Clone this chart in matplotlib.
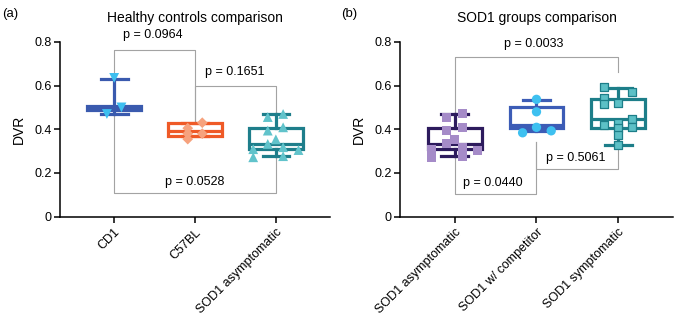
import matplotlib
matplotlib.use("Agg")
import matplotlib.pyplot as plt

plt.rcParams['font.family'] = ['Liberation Sans', 'DejaVu Sans']

# ---- data ----
groups_a = ['CD1', 'C57BL', 'SOD1 asymptomatic']
groups_b = ['SOD1 asymptomatic', 'SOD1 w/ competitor', 'SOD1 symptomatic']

cd1_vals = [0.635, 0.50, 0.47]
c57_vals = [0.43, 0.405, 0.38, 0.38, 0.355]
asym_vals = [0.47, 0.456, 0.409, 0.394, 0.354, 0.333, 0.318, 0.309, 0.305, 0.277, 0.272]
comp_vals = [0.537, 0.48, 0.409, 0.393, 0.384]
symp_vals = [0.594, 0.571, 0.544, 0.518, 0.514, 0.447, 0.43, 0.42, 0.411, 0.407, 0.375, 0.327]

# box stats: whislo, q1, median, q3, whishi
cd1_box = [0.469, 0.487, 0.497, 0.507, 0.628]
c57_box = [0.37, 0.37, 0.394, 0.427, 0.427]
asym_box = [0.277, 0.311, 0.333, 0.404, 0.469]
comp_box = [0.39, 0.405, 0.418, 0.503, 0.533]
symp_box = [0.328, 0.407, 0.445, 0.539, 0.59]

# p-values
p_a = ['p = 0.0964', 'p = 0.1651', 'p = 0.0528']
p_b = ['p = 0.0033', 'p = 0.0440', 'p = 0.5061']

# horizontal jitter of the dots (as drawn in the figure)
cd1_jit = [0, 0.09, -0.09]
c57_jit = [0.09, -0.09, -0.09, 0.09, -0.09]
asym_jit = [0.09, -0.1, 0.09, -0.1, 0, -0.1, 0.09, -0.28, 0.28, 0.09, -0.28]
comp_jit = [0, 0, 0, 0.18, -0.17]
symp_jit = [-0.17, 0.17, -0.17, 0, -0.17, 0.17, 0, -0.17, 0.17, 0, 0, 0]

GRAY = '#a3a3a3'


def stats(b):
    return dict(whislo=b[0], q1=b[1], med=b[2], q3=b[3], whishi=b[4])


def draw_box(ax, pos, box, vals, jit, col, fc, marker, ms, mec=None):
    ax.bxp([stats(box)], positions=[pos], widths=0.66, capwidths=0.33,
           showfliers=False, patch_artist=True,
           boxprops=dict(facecolor='white', edgecolor=col, linewidth=2.3),
           medianprops=dict(color=col, linewidth=2.3),
           whiskerprops=dict(color=col, linewidth=2.3),
           capprops=dict(color=col, linewidth=2.3),
           manage_ticks=False, zorder=3)
    xs = [pos + j for j in jit]
    ax.scatter(xs, vals, marker=marker, s=ms, color=fc, zorder=4,
               edgecolors=mec if mec else 'none', linewidths=0.9 if mec else 0,
               clip_on=False)


def bracket(ax, x1, x2, y, y1, y2):
    ax.plot([x1, x1, x2, x2], [y1, y, y, y2], color=GRAY, lw=0.8, zorder=1,
            clip_on=False)


def style(ax, labels, title):
    ax.set_xlim(-0.67, 2.67)
    ax.set_ylim(0, 0.8)
    ax.set_yticks([0, 0.2, 0.4, 0.6, 0.8])
    ax.set_yticklabels(['0', '0.2', '0.4', '0.6', '0.8'])
    ax.set_xticks([0, 1, 2])
    ax.set_xticklabels(labels, rotation=45, ha='right', rotation_mode='anchor',
                       fontsize=9)
    ax.spines['top'].set_visible(False)
    ax.spines['right'].set_visible(False)
    for s in ['left', 'bottom']:
        ax.spines[s].set_linewidth(1.1)
    ax.tick_params(axis='y', length=4, width=1.1, labelsize=9, pad=2)
    ax.tick_params(axis='x', length=4, width=1.1, pad=3)
    ax.set_ylabel('DVR', fontsize=10, labelpad=6)
    ax.set_title(title, fontsize=10, pad=14)


fig = plt.figure(figsize=(6.75, 3.22), dpi=100)
ax1 = fig.add_axes([0.0889, 0.327, 0.4, 0.543])
ax2 = fig.add_axes([0.5926, 0.327, 0.4044, 0.543])

# panel (a)
bracket(ax1, 0, 1, 0.762, 0.47, 0.434)
bracket(ax1, 1, 2, 0.597, 0.434, 0.47)
bracket(ax1, 0, 2, 0.11, 0.47, 0.277)
draw_box(ax1, 0, cd1_box, cd1_vals, cd1_jit, '#3a5aae', '#3dbff0', 'v', 50)
draw_box(ax1, 1, c57_box, c57_vals, c57_jit, '#ef5a27', '#f6a27d', 'D', 30)
draw_box(ax1, 2, asym_box, asym_vals, asym_jit, '#1e7e8b', '#61c3cb', '^', 50)
ax1.text(0.48, 0.83, p_a[0], ha='center', va='center', fontsize=9)
ax1.text(1.49, 0.663, p_a[1], ha='center', va='center', fontsize=9)
ax1.text(1.0, 0.16, p_a[2], ha='center', va='center', fontsize=9)
style(ax1, groups_a, 'Healthy controls comparison')

# panel (b)
bracket(ax2, 0, 2, 0.731, 0.27, 0.66)
bracket(ax2, 0, 1, 0.102, 0.27, 0.343)
bracket(ax2, 1, 2, 0.218, 0.343, 0.328)
draw_box(ax2, 0, asym_box, asym_vals, asym_jit, '#2d1b5d', '#a58bc8', 's', 42)
draw_box(ax2, 1, comp_box, comp_vals, comp_jit, '#3c5cb6', '#3ec0f0', 'o', 45)
draw_box(ax2, 2, symp_box, symp_vals, symp_jit, '#1d7e89', '#5cc0c6', 's', 36,
         mec='#1d7e89')
ax2.text(0.97, 0.79, p_b[0], ha='center', va='center', fontsize=9)
ax2.text(0.47, 0.155, p_b[1], ha='center', va='center', fontsize=9)
ax2.text(1.48, 0.267, p_b[2], ha='center', va='center', fontsize=9)
style(ax2, groups_b, 'SOD1 groups comparison')

fig.text(0.003, 0.975, '(a)', fontsize=9.5, va='top')
fig.text(0.506, 0.975, '(b)', fontsize=9.5, va='top')

fig.savefig('out.png', dpi=100)
